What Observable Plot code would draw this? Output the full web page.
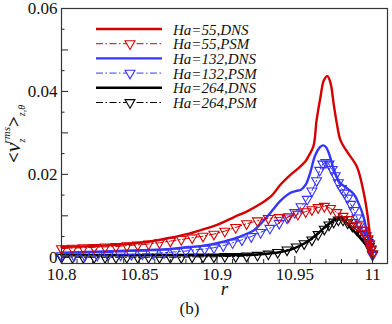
<!DOCTYPE html>
<html>
<head>
<meta charset="utf-8">
<script src="https://cdn.jsdelivr.net/npm/d3@7"></script>
<script src="https://cdn.jsdelivr.net/npm/@observablehq/plot@0.6"></script>
<style>
  html, body { margin: 0; padding: 0; background: #fff; }
  #chart { width: 392px; height: 324px; }
  #chart svg text { font-family: "Liberation Serif", serif; }
</style>
</head>
<body>
<div id="chart"></div>
<script>
// ---------- data ----------
const seriesNames = ["Ha=55,DNS", "Ha=55,PSM", "Ha=132,DNS", "Ha=132,PSM", "Ha=264,DNS", "Ha=264,PSM"];

const rDNS55 = [10.800,10.820,10.840,10.850,10.860,10.870,10.882,10.890,10.900,10.911,10.920,10.928,10.935,10.941,10.947,10.953,10.957,10.959,10.962,10.964,10.9665,10.9687,10.971,10.973,10.975,10.977,10.9794,10.9837,10.990,10.9944,10.9966,10.9987,11.000];
const vDNS55 = [0.0025,0.0027,0.0031,0.0035,0.0040,0.0047,0.0057,0.0066,0.0078,0.0097,0.0112,0.0129,0.0148,0.0176,0.0198,0.0217,0.0232,0.0245,0.0268,0.0330,0.0386,0.0427,0.0437,0.0420,0.0370,0.0323,0.0282,0.0254,0.0218,0.0154,0.0106,0.0040,0.0000];

const rPSM55 = [10.800,10.807,10.814,10.821,10.828,10.835,10.842,10.849,10.856,10.863,10.870,10.877,10.884,10.891,10.898,10.905,10.912,10.919,10.926,10.933,10.940,10.946,10.952,10.957,10.961,10.965,10.969,10.973,10.977,10.981,10.984,10.987,10.990,10.993,10.995,10.997,10.998,10.999,11.000];
const vPSM55 = [0.0021,0.0022,0.0023,0.0024,0.0025,0.0026,0.0028,0.0030,0.0032,0.0035,0.0039,0.0043,0.0047,0.0051,0.0056,0.0063,0.0072,0.0081,0.0088,0.0094,0.0096,0.0098,0.0104,0.0110,0.0115,0.0120,0.0123,0.0118,0.0108,0.0099,0.0091,0.0084,0.0076,0.0066,0.0057,0.0045,0.0032,0.0020,0.0008];

const rDNS132 = [10.800,10.850,10.870,10.882,10.889,10.900,10.911,10.918,10.924,10.932,10.936,10.941,10.947,10.951,10.954,10.957,10.960,10.963,10.966,10.968,10.970,10.972,10.974,10.976,10.979,10.9837,10.988,10.991,10.994,10.997,10.9987,11.000];
const vDNS132 = [0.0011,0.0017,0.0020,0.0025,0.0027,0.0034,0.0045,0.0055,0.0066,0.0097,0.0115,0.0137,0.0155,0.0160,0.0163,0.0175,0.0205,0.0245,0.0265,0.0270,0.0266,0.0250,0.0225,0.0202,0.0180,0.0166,0.0152,0.0130,0.0100,0.0050,0.0025,0.0000];

const rPSM132 = [10.800,10.808,10.815,10.823,10.830,10.838,10.845,10.852,10.859,10.866,10.873,10.880,10.886,10.892,10.898,10.904,10.910,10.916,10.922,10.928,10.934,10.940,10.945,10.950,10.954,10.958,10.961,10.964,10.966,10.968,10.970,10.972,10.974,10.976,10.978,10.980,10.982,10.984,10.986,10.988,10.990,10.992,10.994,10.996,10.997,10.998,10.999,11.000];
const vPSM132 = [0.0004,0.0004,0.0004,0.0005,0.0005,0.0006,0.0007,0.0008,0.0009,0.0011,0.0013,0.0015,0.0018,0.0020,0.0023,0.0028,0.0035,0.0042,0.0050,0.0060,0.0070,0.0082,0.0095,0.0108,0.0122,0.0140,0.0160,0.0185,0.0210,0.0225,0.0229,0.0225,0.0212,0.0197,0.0180,0.0166,0.0155,0.0143,0.0128,0.0113,0.0095,0.0080,0.0065,0.0052,0.0042,0.0032,0.0020,0.0005];

const rDNS264 = [10.800,10.850,10.900,10.920,10.930,10.940,10.947,10.954,10.960,10.965,10.970,10.974,10.977,10.979,10.981,10.985,10.990,10.995,11.000];
const vDNS264 = [0.0005,0.0005,0.0005,0.0006,0.0008,0.0012,0.0018,0.0029,0.0043,0.0058,0.0075,0.0087,0.0094,0.0096,0.0093,0.0075,0.0055,0.0033,0.0008];

const rPSM264 = [10.800,10.807,10.814,10.821,10.828,10.835,10.842,10.849,10.856,10.863,10.870,10.877,10.884,10.891,10.898,10.905,10.912,10.919,10.926,10.933,10.939,10.945,10.951,10.956,10.961,10.965,10.969,10.972,10.975,10.978,10.981,10.984,10.987,10.990,10.993,10.995,10.997,10.998,10.999,11.000];
const vPSM264 = [0.0000,0.0000,0.0000,0.0000,0.0000,0.0000,0.0000,0.0000,0.0000,0.0000,0.0000,0.0000,0.0001,0.0001,0.0001,0.0002,0.0002,0.0003,0.0005,0.0008,0.0012,0.0018,0.0025,0.0033,0.0042,0.0055,0.0068,0.0078,0.0085,0.0090,0.0090,0.0083,0.0075,0.0066,0.0055,0.0046,0.0036,0.0027,0.0018,0.0008];

const xTickValues = [10.8, 10.85, 10.9, 10.95, 11];
const xTickLabels = ["10.8", "10.85", "10.9", "10.95", "11"];
const xMinorTicks = [10.81,10.82,10.83,10.84,10.86,10.87,10.88,10.89,10.91,10.92,10.93,10.94,10.96,10.97,10.98,10.99];
const yLabelTicks = [0, 0.02, 0.04, 0.06];
const yTickLabels = ["0", "0.02", "0.04", "0.06"];
const yMajorTicks = [0, 0.01, 0.02, 0.03, 0.04, 0.05, 0.06];
const yMinorTicks = [0.005, 0.015, 0.025, 0.035, 0.045, 0.055];

// ---------- styling ----------
const RED = "#d40000", BLUE = "#3535ff", BLACK = "#000000";
const FONT = "Liberation Serif, serif";
const DASHDOT = "7,2.5,1.5,2.5";

const toRows = (rs, vs) => rs.map((r, i) => ({r, v: vs[i]}));
const dns55 = toRows(rDNS55, vDNS55), psm55 = toRows(rPSM55, vPSM55);
const dns132 = toRows(rDNS132, vDNS132), psm132 = toRows(rPSM132, vPSM132);
const dns264 = toRows(rDNS264, vDNS264), psm264 = toRows(rPSM264, vPSM264);

// downward-pointing triangle symbol
const triDown = {
  draw(context, size) {
    const s = Math.sqrt(size * 4 / Math.sqrt(3));
    const h = s * Math.sqrt(3) / 2;
    context.moveTo(-s / 2, -h / 3);
    context.lineTo(s / 2, -h / 3);
    context.lineTo(0, 2 * h / 3);
    context.closePath();
  }
};

const lineDNS = (data, color) => Plot.line(data, {x: "r", y: "v", stroke: color, strokeWidth: 2.4, curve: "catmull-rom"});
const linePSM = (data, color) => Plot.line(data, {x: "r", y: "v", stroke: color, strokeWidth: 1, strokeDasharray: DASHDOT, curve: "linear"});
const dotPSM = (data, color) => Plot.dot(data, {x: "r", y: "v", stroke: color, fill: "none", strokeWidth: 1.1, r: 3.7, symbol: triDown});

const plot = Plot.plot({
  width: 392,
  height: 324,
  marginLeft: 61,
  marginRight: 5,
  marginTop: 8,
  marginBottom: 61,
  style: {fontFamily: FONT, background: "#fff"},
  x: {domain: [10.8, 11.0096]},
  y: {domain: [-0.0015, 0.06]},
  marks: [
    // data
    linePSM(psm264, BLACK), dotPSM(psm264, BLACK),
    lineDNS(dns264, BLACK),
    linePSM(psm132, BLUE), dotPSM(psm132, BLUE),
    lineDNS(dns132, BLUE),
    linePSM(psm55, RED), dotPSM(psm55, RED),
    lineDNS(dns55, RED),
    // inward ticks
    Plot.axisY({ticks: yMajorTicks, tickSize: -7, tickFormat: () => "", label: null, stroke: "#222"}),
    Plot.axisY({ticks: yMinorTicks, tickSize: -3.5, tickFormat: () => "", label: null, stroke: "#222"}),
    Plot.axisX({ticks: xTickValues, tickSize: -7, tickFormat: () => "", label: null, stroke: "#222"}),
    Plot.axisX({ticks: xMinorTicks, tickSize: -4, tickFormat: () => "", label: null, stroke: "#222"}),
    // tick labels
    Plot.axisY({ticks: yLabelTicks, tickSize: 0, tickPadding: 4, label: null, fontSize: 17, fill: "#111", fontFamily: FONT,
      tickFormat: d => yTickLabels[yLabelTicks.indexOf(d)]}),
    Plot.axisX({ticks: xTickValues, tickSize: 0, tickPadding: 4, label: null, fontSize: 17, fill: "#111", fontFamily: FONT,
      tickFormat: d => xTickLabels[xTickValues.indexOf(d)]}),
    Plot.frame({stroke: "#333", strokeWidth: 1.2}),
    // axis title r and panel caption
    Plot.text(["r"], {frameAnchor: "bottom", dy: 31, fontSize: 19, fontStyle: "italic", fill: "#111", fontFamily: FONT}),
    Plot.text(["(b)"], {frameAnchor: "bottom", dx: -35, dy: 50, fontSize: 17, fill: "#111", fontFamily: FONT})
  ]
});

const svg = d3.select(plot);

// ---------- legend ----------
const legendItems = [
  {name: seriesNames[0], color: RED, dns: true},
  {name: seriesNames[1], color: RED, dns: false},
  {name: seriesNames[2], color: BLUE, dns: true},
  {name: seriesNames[3], color: BLUE, dns: false},
  {name: seriesNames[4], color: BLACK, dns: true},
  {name: seriesNames[5], color: BLACK, dns: false}
];
const lg = svg.append("g").attr("transform", "translate(96,29)");
legendItems.forEach((d, i) => {
  const g = lg.append("g").attr("transform", `translate(0,${i * 14.7})`);
  g.append("line").attr("x1", 0).attr("x2", 66).attr("y1", 0).attr("y2", 0)
    .attr("stroke", d.color).attr("stroke-width", d.dns ? 2.4 : 1)
    .attr("stroke-dasharray", d.dns ? null : DASHDOT);
  if (!d.dns) {
    g.append("path").attr("d", d3.symbol(triDown, Math.PI * 3.7 * 3.7)())
      .attr("transform", "translate(34,0)")
      .attr("fill", "#fff").attr("stroke", d.color).attr("stroke-width", 1.1);
  }
  g.append("text").attr("x", 77).attr("y", 5.5)
    .attr("text-anchor", "start")
    .attr("font-family", FONT).attr("font-size", 15).attr("font-style", "italic")
    .attr("fill", "#111").text(d.name);
});

// ---------- y axis title: <v_z^rms>_{z,θ} ----------
const yt = svg.append("text")
  .attr("transform", "translate(20,134) rotate(-90)")
  .attr("text-anchor", "middle")
  .attr("font-family", FONT).attr("font-size", 19).attr("fill", "#111");
yt.append("tspan").attr("font-weight", "bold").text("<");
yt.append("tspan").attr("font-style", "italic").attr("font-size", 22).text("v");
yt.append("tspan").attr("font-style", "italic").attr("font-size", 10).attr("dy", 5).text("z");
yt.append("tspan").attr("font-style", "italic").attr("font-size", 11).attr("dx", -5).attr("dy", -15).text("rms");
yt.append("tspan").attr("font-weight", "bold").attr("dy", 10).text(">");
yt.append("tspan").attr("font-style", "italic").attr("font-size", 10).attr("dy", 5).text("z,θ");

document.getElementById("chart").appendChild(plot);
</script>
</body>
</html>
